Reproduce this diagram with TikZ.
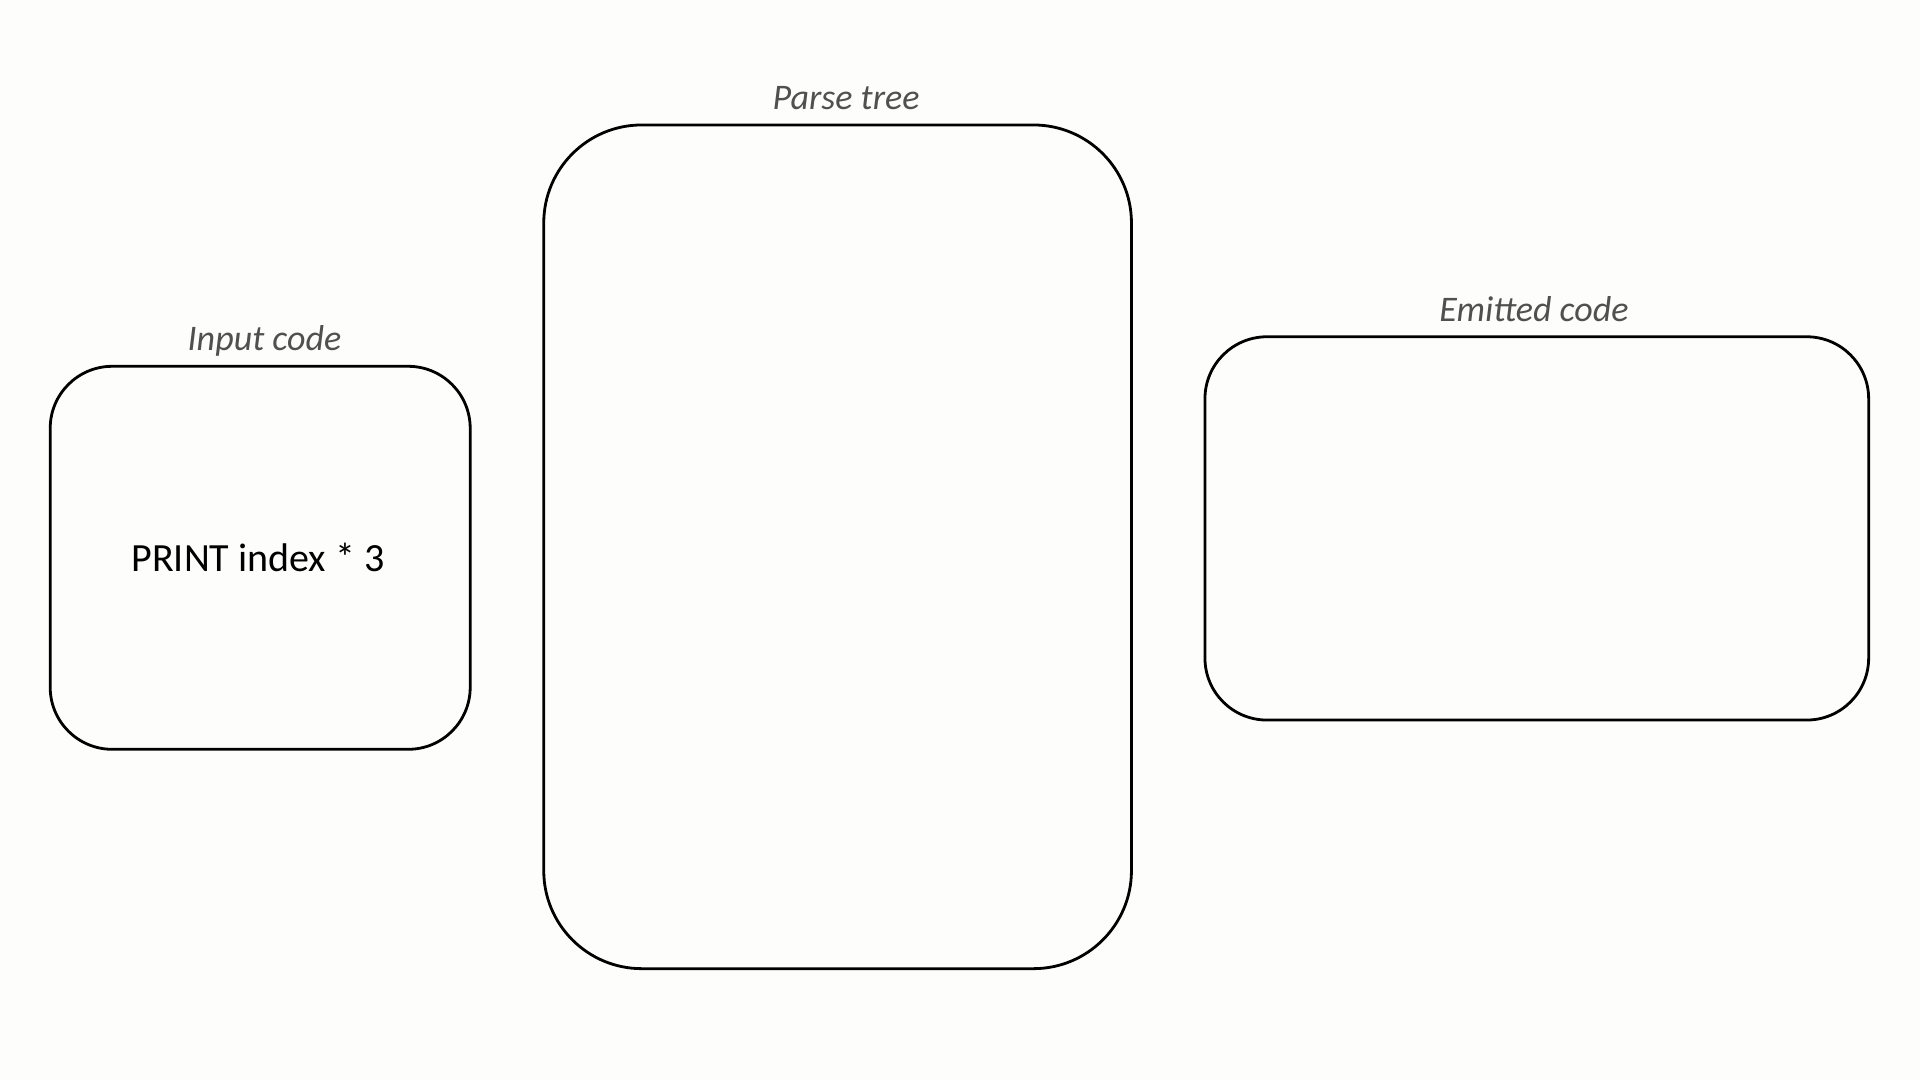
\documentclass[tikz,border=0pt]{standalone}
\usepackage{fontspec}
\setmainfont{Carlito}
\definecolor{bg}{HTML}{FDFDFB}
\definecolor{lbl}{HTML}{505050}
\begin{document}
\begin{tikzpicture}[x=1pt,y=-1pt,
  panel/.style={draw=black,line width=2.8pt,fill=bg,inner sep=0pt},
  title/.style={font=\fontsize{36}{43}\selectfont\itshape,text=lbl,inner sep=0pt,anchor=base},
  code/.style={font=\fontsize{40}{48}\selectfont,text=black,inner sep=0pt}]
\fill[bg] (0,0) rectangle (1920,1080);
\useasboundingbox (0,0) rectangle (1920,1080);
\node[panel,rounded corners=62pt,minimum width=420pt,minimum height=383pt] (input) at (260.2,557.8) {};
\node[panel,rounded corners=98pt,minimum width=587.7pt,minimum height=843.7pt] (tree) at (837.6,546.8) {};
\node[panel,rounded corners=62pt,minimum width=663.7pt,minimum height=383.3pt] (emit) at (1536.8,528.4) {};
\node[title] (inputlbl) at (264.5,350.5) {Input code};
\node[title] (treelbl) at (846,109.5) {Parse tree};
\node[title] (emitlbl) at (1534,321) {Emitted code};
\node[code] (inputtxt) at (258,557) {PRINT index * 3};
\end{tikzpicture}
\end{document}
